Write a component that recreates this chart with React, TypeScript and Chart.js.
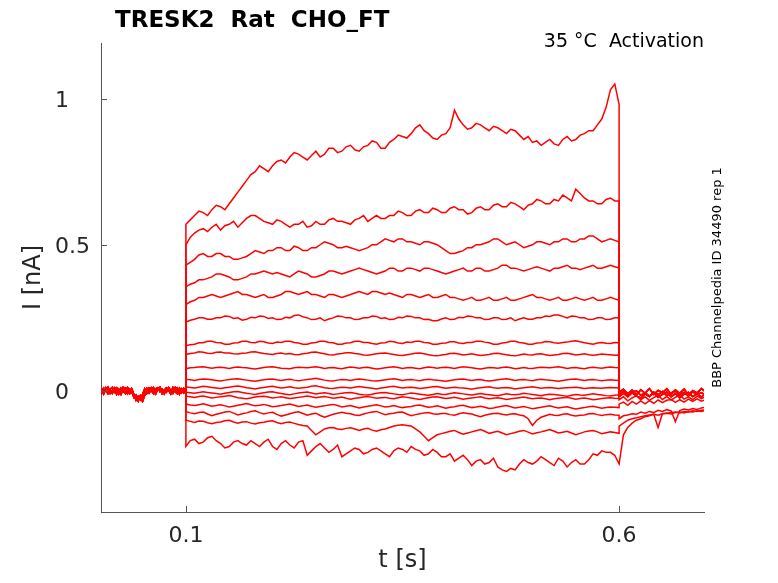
import { useEffect, useRef } from 'react';
import { Chart, registerables } from 'chart.js';

Chart.register(...registerables);

const xTicks = [0.1, 0.6];
const yTicks = [0, 0.5, 1];
const xRange = [0.002, 0.698];
const yRange = [-0.414, 1.19];

// holding period, 0 .. 0.1 s every 2.5 ms
const baseA = [0.008, -0.006, 0.01, 0.002, -0.009, 0.006, 0.012, -0.004, 0.004, -0.01, 0.009, 0.0, -0.008, 0.011, 0.003, -0.006, -0.016, -0.026, -0.018, -0.03, -0.012, 0.007, -0.004, 0.01, 0.002, -0.009, 0.007, 0.011, -0.002, 0.006, -0.008, 0.009, 0.003, -0.01, 0.007, 0.012, -0.004, 0.006, -0.006, 0.009, 0.003];
const baseB = [-0.01, 0.004, -0.004, 0.011, 0.005, -0.008, 0.002, 0.01, -0.011, 0.006, -0.002, 0.012, 0.003, -0.009, 0.007, 0.0, -0.022, -0.014, -0.034, -0.016, -0.024, -0.006, 0.008, -0.007, 0.005, 0.012, -0.006, 0.002, 0.01, -0.009, 0.004, -0.004, 0.011, 0.002, -0.008, 0.005, 0.01, -0.01, 0.007, 0.0, -0.004];
const baseC = [0.012, 0.002, -0.011, 0.005, 0.013, -0.002, -0.009, 0.007, 0.011, 0.0, -0.012, 0.005, 0.01, -0.004, -0.01, 0.007, -0.012, -0.032, -0.024, -0.022, -0.036, -0.014, -0.009, 0.004, 0.011, -0.004, -0.011, 0.007, 0.013, 0.0, -0.01, 0.01, 0.005, -0.006, 0.012, -0.002, -0.009, 0.01, 0.002, -0.007, 0.005];

// test pulse, 0.1 .. 0.6 s every 5 ms
const sweep1 = [
  0.57, 0.585, 0.6, 0.615, 0.61, 0.6, 0.62, 0.635, 0.63, 0.62,
  0.64, 0.66, 0.68, 0.7, 0.72, 0.74, 0.75, 0.77, 0.76, 0.75,
  0.77, 0.785, 0.79, 0.78, 0.8, 0.815, 0.81, 0.8, 0.79, 0.805,
  0.82, 0.8, 0.81, 0.83, 0.83, 0.815, 0.82, 0.835, 0.84, 0.825,
  0.82, 0.835, 0.84, 0.855, 0.85, 0.83, 0.83, 0.85, 0.86, 0.875,
  0.87, 0.865, 0.88, 0.9, 0.91, 0.89, 0.88, 0.865, 0.86, 0.875,
  0.88, 0.9, 0.96, 0.93, 0.91, 0.895, 0.9, 0.915, 0.91, 0.9,
  0.89, 0.905, 0.9, 0.89, 0.88, 0.895, 0.89, 0.875, 0.86, 0.87,
  0.85, 0.855, 0.84, 0.85, 0.86, 0.845, 0.84, 0.86, 0.87, 0.855,
  0.86, 0.875, 0.88, 0.89, 0.89, 0.91, 0.93, 0.97, 1.03, 1.05,
  0.98];
const sweep2 = [
  0.5, 0.525, 0.54, 0.55, 0.555, 0.545, 0.56, 0.57, 0.55, 0.565,
  0.57, 0.58, 0.56, 0.575, 0.59, 0.6, 0.6, 0.59, 0.58, 0.575,
  0.57, 0.585, 0.58, 0.57, 0.56, 0.57, 0.57, 0.58, 0.56, 0.565,
  0.58, 0.57, 0.57, 0.585, 0.59, 0.58, 0.58, 0.575, 0.57, 0.585,
  0.59, 0.6, 0.58, 0.59, 0.6, 0.59, 0.59, 0.6, 0.6, 0.615,
  0.61, 0.6, 0.6, 0.615, 0.62, 0.61, 0.61, 0.625, 0.62, 0.61,
  0.61, 0.625, 0.63, 0.62, 0.62, 0.605, 0.61, 0.625, 0.63, 0.62,
  0.62, 0.635, 0.64, 0.63, 0.63, 0.645, 0.64, 0.63, 0.62, 0.635,
  0.64, 0.655, 0.65, 0.64, 0.64, 0.655, 0.65, 0.67, 0.66, 0.65,
  0.69, 0.675, 0.66, 0.65, 0.65, 0.64, 0.64, 0.655, 0.66, 0.65,
  0.65];
const sweep3 = [
  0.43, 0.44, 0.45, 0.465, 0.47, 0.46, 0.46, 0.47, 0.47, 0.46,
  0.46, 0.45, 0.45, 0.455, 0.46, 0.47, 0.48, 0.475, 0.47, 0.48,
  0.48, 0.49, 0.49, 0.48, 0.48, 0.495, 0.49, 0.48, 0.48, 0.49,
  0.49, 0.5, 0.51, 0.505, 0.5, 0.49, 0.49, 0.495, 0.49, 0.485,
  0.48, 0.485, 0.49, 0.5, 0.5, 0.51, 0.52, 0.515, 0.51, 0.52,
  0.52, 0.51, 0.51, 0.505, 0.5, 0.51, 0.51, 0.505, 0.5, 0.49,
  0.48, 0.47, 0.47, 0.475, 0.48, 0.49, 0.49, 0.5, 0.5, 0.505,
  0.51, 0.52, 0.52, 0.51, 0.5, 0.505, 0.51, 0.5, 0.49, 0.495,
  0.5, 0.51, 0.51, 0.505, 0.5, 0.51, 0.51, 0.52, 0.52, 0.51,
  0.51, 0.52, 0.52, 0.53, 0.53, 0.52, 0.51, 0.515, 0.52, 0.515,
  0.51];
const sweep4 = [
  0.356, 0.365, 0.37, 0.38, 0.38, 0.385, 0.39, 0.4, 0.4, 0.395,
  0.39, 0.38, 0.38, 0.385, 0.39, 0.4, 0.4, 0.405, 0.41, 0.405,
  0.4, 0.405, 0.4, 0.395, 0.39, 0.4, 0.41, 0.405, 0.4, 0.39,
  0.39, 0.395, 0.4, 0.41, 0.41, 0.405, 0.4, 0.405, 0.41, 0.415,
  0.42, 0.415, 0.41, 0.405, 0.4, 0.405, 0.41, 0.42, 0.42, 0.41,
  0.41, 0.42, 0.42, 0.415, 0.41, 0.42, 0.42, 0.415, 0.41, 0.405,
  0.4, 0.405, 0.41, 0.415, 0.42, 0.41, 0.41, 0.42, 0.42, 0.41,
  0.41, 0.415, 0.42, 0.43, 0.43, 0.42, 0.42, 0.415, 0.41, 0.415,
  0.42, 0.425, 0.42, 0.415, 0.41, 0.42, 0.42, 0.425, 0.43, 0.42,
  0.42, 0.415, 0.42, 0.425, 0.43, 0.42, 0.42, 0.425, 0.43, 0.425,
  0.42];
const sweep5 = [
  0.295, 0.305, 0.31, 0.32, 0.32, 0.325, 0.33, 0.325, 0.32, 0.325,
  0.33, 0.335, 0.34, 0.33, 0.33, 0.325, 0.32, 0.325, 0.33, 0.32,
  0.32, 0.325, 0.33, 0.34, 0.34, 0.335, 0.33, 0.335, 0.34, 0.33,
  0.33, 0.325, 0.32, 0.33, 0.33, 0.325, 0.32, 0.325, 0.33, 0.335,
  0.34, 0.335, 0.33, 0.34, 0.34, 0.335, 0.33, 0.335, 0.33, 0.325,
  0.32, 0.33, 0.33, 0.325, 0.32, 0.325, 0.33, 0.32, 0.32, 0.325,
  0.33, 0.32, 0.32, 0.315, 0.31, 0.315, 0.32, 0.31, 0.31, 0.315,
  0.32, 0.31, 0.31, 0.315, 0.32, 0.31, 0.31, 0.315, 0.32, 0.325,
  0.33, 0.32, 0.32, 0.315, 0.31, 0.315, 0.32, 0.31, 0.31, 0.315,
  0.32, 0.315, 0.31, 0.315, 0.32, 0.31, 0.31, 0.315, 0.32, 0.315,
  0.31];
const sweep6 = [
  0.236, 0.242, 0.245, 0.25, 0.25, 0.245, 0.245, 0.25, 0.25, 0.256,
  0.255, 0.248, 0.25, 0.242, 0.245, 0.252, 0.25, 0.256, 0.255, 0.248,
  0.25, 0.244, 0.245, 0.252, 0.25, 0.258, 0.26, 0.254, 0.25, 0.244,
  0.245, 0.25, 0.24, 0.246, 0.25, 0.256, 0.255, 0.25, 0.25, 0.244,
  0.245, 0.25, 0.25, 0.256, 0.255, 0.248, 0.25, 0.244, 0.245, 0.252,
  0.25, 0.256, 0.255, 0.25, 0.25, 0.244, 0.245, 0.24, 0.24, 0.246,
  0.25, 0.244, 0.245, 0.252, 0.25, 0.256, 0.255, 0.25, 0.25, 0.244,
  0.245, 0.25, 0.25, 0.244, 0.245, 0.25, 0.24, 0.246, 0.25, 0.245,
  0.245, 0.25, 0.25, 0.256, 0.255, 0.26, 0.26, 0.255, 0.25, 0.256,
  0.255, 0.25, 0.25, 0.244, 0.245, 0.25, 0.25, 0.244, 0.245, 0.25,
  0.25];
const sweep7 = [
  0.155, 0.158, 0.16, 0.165, 0.165, 0.17, 0.17, 0.166, 0.165, 0.16,
  0.16, 0.164, 0.165, 0.17, 0.17, 0.166, 0.165, 0.17, 0.168, 0.164,
  0.162, 0.167, 0.166, 0.17, 0.17, 0.166, 0.164, 0.16, 0.16, 0.164,
  0.166, 0.17, 0.17, 0.166, 0.165, 0.16, 0.16, 0.164, 0.165, 0.17,
  0.17, 0.166, 0.166, 0.162, 0.16, 0.164, 0.165, 0.17, 0.168, 0.164,
  0.162, 0.167, 0.166, 0.17, 0.17, 0.166, 0.165, 0.16, 0.16, 0.163,
  0.164, 0.168, 0.168, 0.164, 0.162, 0.166, 0.166, 0.17, 0.17, 0.167,
  0.165, 0.16, 0.16, 0.164, 0.166, 0.17, 0.17, 0.166, 0.164, 0.16,
  0.16, 0.164, 0.165, 0.169, 0.168, 0.165, 0.163, 0.166, 0.167, 0.17,
  0.172, 0.168, 0.165, 0.162, 0.16, 0.164, 0.166, 0.163, 0.162, 0.166,
  0.165];
const sweep8 = [
  0.125, 0.128, 0.13, 0.134, 0.132, 0.129, 0.128, 0.132, 0.133, 0.13,
  0.13, 0.127, 0.126, 0.129, 0.13, 0.133, 0.134, 0.131, 0.128, 0.126,
  0.125, 0.128, 0.13, 0.126, 0.128, 0.125, 0.124, 0.127, 0.129, 0.132,
  0.133, 0.13, 0.127, 0.124, 0.123, 0.126, 0.128, 0.131, 0.131, 0.128,
  0.126, 0.123, 0.122, 0.125, 0.127, 0.129, 0.13, 0.127, 0.125, 0.122,
  0.121, 0.124, 0.126, 0.129, 0.13, 0.127, 0.124, 0.121, 0.12, 0.123,
  0.125, 0.128, 0.129, 0.126, 0.123, 0.125, 0.127, 0.124, 0.121, 0.123,
  0.125, 0.128, 0.129, 0.126, 0.124, 0.121, 0.12, 0.123, 0.126, 0.124,
  0.123, 0.126, 0.127, 0.124, 0.121, 0.123, 0.125, 0.128, 0.129, 0.126,
  0.123, 0.125, 0.127, 0.124, 0.122, 0.124, 0.126, 0.125, 0.124, 0.122,
  0.123];
const sweep9 = [
  0.076, 0.079, 0.08, 0.082, 0.083, 0.08, 0.078, 0.08, 0.081, 0.079,
  0.077, 0.08, 0.082, 0.08, 0.079, 0.077, 0.075, 0.078, 0.08, 0.082,
  0.083, 0.08, 0.078, 0.077, 0.076, 0.079, 0.081, 0.08, 0.079, 0.081,
  0.083, 0.08, 0.077, 0.079, 0.08, 0.078, 0.076, 0.079, 0.082, 0.08,
  0.078, 0.08, 0.081, 0.078, 0.075, 0.077, 0.079, 0.081, 0.083, 0.08,
  0.077, 0.079, 0.08, 0.078, 0.076, 0.079, 0.082, 0.08, 0.078, 0.08,
  0.081, 0.079, 0.077, 0.08, 0.083, 0.081, 0.079, 0.077, 0.075, 0.078,
  0.08, 0.079, 0.078, 0.08, 0.082, 0.079, 0.076, 0.078, 0.08, 0.078,
  0.077, 0.079, 0.081, 0.08, 0.079, 0.081, 0.083, 0.08, 0.077, 0.079,
  0.08, 0.078, 0.076, 0.079, 0.081, 0.079, 0.078, 0.08, 0.082, 0.08,
  0.079];
const sweep10 = [
  0.04, 0.038, 0.036, 0.039, 0.041, 0.04, 0.038, 0.036, 0.034, 0.037,
  0.039, 0.041, 0.042, 0.039, 0.037, 0.035, 0.033, 0.036, 0.038, 0.04,
  0.041, 0.038, 0.036, 0.038, 0.04, 0.037, 0.035, 0.037, 0.039, 0.041,
  0.043, 0.04, 0.037, 0.035, 0.034, 0.037, 0.039, 0.038, 0.036, 0.039,
  0.041, 0.039, 0.037, 0.035, 0.034, 0.036, 0.038, 0.04, 0.042, 0.039,
  0.036, 0.038, 0.039, 0.037, 0.035, 0.038, 0.04, 0.038, 0.037, 0.035,
  0.033, 0.036, 0.038, 0.04, 0.041, 0.038, 0.036, 0.038, 0.039, 0.036,
  0.034, 0.036, 0.038, 0.04, 0.042, 0.039, 0.036, 0.038, 0.039, 0.037,
  0.035, 0.038, 0.04, 0.038, 0.037, 0.035, 0.033, 0.036, 0.038, 0.04,
  0.041, 0.038, 0.036, 0.038, 0.039, 0.037, 0.035, 0.037, 0.038, 0.037,
  0.036];
const sweep11 = [
  0.014, 0.012, 0.01, 0.013, 0.016, 0.014, 0.012, 0.01, 0.008, 0.011,
  0.013, 0.015, 0.017, 0.014, 0.011, 0.009, 0.007, 0.01, 0.012, 0.014,
  0.016, 0.013, 0.01, 0.012, 0.014, 0.011, 0.009, 0.011, 0.013, 0.016,
  0.018, 0.014, 0.011, 0.009, 0.008, 0.011, 0.013, 0.012, 0.01, 0.013,
  0.015, 0.013, 0.011, 0.009, 0.007, 0.01, 0.012, 0.014, 0.016, 0.013,
  0.01, 0.012, 0.013, 0.011, 0.008, 0.01, 0.012, 0.014, 0.015, 0.012,
  0.009, 0.011, 0.013, 0.011, 0.01, 0.008, 0.006, 0.009, 0.011, 0.013,
  0.014, 0.011, 0.009, 0.011, 0.012, 0.01, 0.007, 0.009, 0.011, 0.013,
  0.014, 0.012, 0.009, 0.011, 0.012, 0.01, 0.008, 0.01, 0.011, 0.012,
  0.013, 0.011, 0.008, 0.01, 0.011, 0.01, 0.009, 0.011, 0.012, 0.011,
  0.01];
const sweep12 = [
  -0.004, -0.006, -0.008, -0.005, -0.003, -0.005, -0.007, -0.009, -0.011, -0.008,
  -0.005, -0.003, -0.002, -0.005, -0.008, -0.01, -0.012, -0.009, -0.006, -0.004,
  -0.003, -0.006, -0.009, -0.011, -0.013, -0.01, -0.007, -0.005, -0.004, -0.007,
  -0.01, -0.008, -0.006, -0.009, -0.012, -0.01, -0.008, -0.006, -0.005, -0.008,
  -0.011, -0.013, -0.014, -0.011, -0.008, -0.006, -0.005, -0.008, -0.01, -0.012,
  -0.013, -0.01, -0.007, -0.009, -0.011, -0.013, -0.015, -0.012, -0.009, -0.011,
  -0.012, -0.009, -0.006, -0.008, -0.01, -0.012, -0.014, -0.011, -0.009, -0.011,
  -0.013, -0.015, -0.016, -0.013, -0.01, -0.012, -0.013, -0.011, -0.008, -0.01,
  -0.012, -0.014, -0.016, -0.013, -0.011, -0.012, -0.014, -0.016, -0.018, -0.015,
  -0.012, -0.014, -0.015, -0.012, -0.01, -0.012, -0.014, -0.016, -0.017, -0.015,
  -0.013];
const sweep13 = [
  -0.018, -0.02, -0.022, -0.019, -0.017, -0.021, -0.024, -0.022, -0.02, -0.018,
  -0.016, -0.019, -0.023, -0.025, -0.027, -0.024, -0.021, -0.019, -0.018, -0.021,
  -0.024, -0.022, -0.02, -0.023, -0.026, -0.024, -0.022, -0.02, -0.017, -0.02,
  -0.023, -0.021, -0.019, -0.022, -0.025, -0.023, -0.021, -0.025, -0.028, -0.025,
  -0.023, -0.021, -0.019, -0.022, -0.025, -0.023, -0.022, -0.025, -0.027, -0.023,
  -0.02, -0.022, -0.024, -0.027, -0.029, -0.026, -0.023, -0.021, -0.02, -0.023,
  -0.026, -0.024, -0.022, -0.025, -0.028, -0.026, -0.024, -0.022, -0.02, -0.024,
  -0.027, -0.025, -0.023, -0.026, -0.029, -0.027, -0.025, -0.023, -0.021, -0.024,
  -0.027, -0.025, -0.024, -0.027, -0.03, -0.027, -0.025, -0.023, -0.022, -0.025,
  -0.028, -0.026, -0.024, -0.027, -0.03, -0.028, -0.026, -0.024, -0.023, -0.025,
  -0.026];
const sweep14 = [
  -0.045, -0.048, -0.05, -0.047, -0.044, -0.048, -0.052, -0.05, -0.047, -0.051,
  -0.055, -0.052, -0.049, -0.046, -0.043, -0.047, -0.051, -0.049, -0.046, -0.05,
  -0.054, -0.052, -0.05, -0.047, -0.045, -0.049, -0.053, -0.051, -0.048, -0.052,
  -0.056, -0.053, -0.051, -0.048, -0.046, -0.05, -0.055, -0.052, -0.05, -0.054,
  -0.058, -0.055, -0.052, -0.05, -0.047, -0.051, -0.055, -0.053, -0.05, -0.054,
  -0.057, -0.055, -0.053, -0.05, -0.048, -0.052, -0.056, -0.054, -0.051, -0.055,
  -0.059, -0.056, -0.054, -0.051, -0.049, -0.053, -0.057, -0.055, -0.052, -0.056,
  -0.06, -0.058, -0.055, -0.052, -0.05, -0.054, -0.058, -0.056, -0.053, -0.057,
  -0.061, -0.058, -0.056, -0.053, -0.051, -0.055, -0.058, -0.056, -0.054, -0.058,
  -0.062, -0.059, -0.057, -0.054, -0.052, -0.056, -0.059, -0.057, -0.055, -0.056,
  -0.057];
const sweep15 = [
  -0.07, -0.075, -0.078, -0.074, -0.072, -0.079, -0.085, -0.08, -0.076, -0.072,
  -0.07, -0.076, -0.082, -0.078, -0.075, -0.07, -0.068, -0.074, -0.079, -0.075,
  -0.073, -0.08, -0.086, -0.082, -0.078, -0.074, -0.071, -0.077, -0.083, -0.079,
  -0.076, -0.084, -0.09, -0.085, -0.08, -0.076, -0.073, -0.076, -0.078, -0.082,
  -0.084, -0.079, -0.075, -0.072, -0.07, -0.076, -0.081, -0.078, -0.076, -0.073,
  -0.072, -0.079, -0.085, -0.081, -0.078, -0.075, -0.074, -0.078, -0.08, -0.077,
  -0.077, -0.081, -0.083, -0.078, -0.075, -0.077, -0.079, -0.084, -0.088, -0.083,
  -0.08, -0.077, -0.076, -0.08, -0.082, -0.079, -0.078, -0.082, -0.085, -0.095,
  -0.118, -0.1, -0.09, -0.085, -0.08, -0.083, -0.084, -0.08, -0.078, -0.083,
  -0.086, -0.083, -0.082, -0.078, -0.077, -0.081, -0.084, -0.081, -0.08, -0.082,
  -0.083];
const sweep16 = [
  -0.1, -0.104, -0.108, -0.103, -0.104, -0.109, -0.112, -0.108, -0.106, -0.102,
  -0.1, -0.106, -0.11, -0.106, -0.105, -0.11, -0.113, -0.109, -0.107, -0.104,
  -0.102, -0.108, -0.112, -0.108, -0.106, -0.111, -0.115, -0.118, -0.12, -0.135,
  -0.15, -0.14, -0.13, -0.126, -0.125, -0.13, -0.132, -0.128, -0.126, -0.13,
  -0.135, -0.13, -0.128, -0.134, -0.138, -0.133, -0.13, -0.125, -0.12, -0.117,
  -0.116, -0.118, -0.12, -0.13, -0.14, -0.155, -0.17, -0.16, -0.15, -0.146,
  -0.142, -0.138, -0.135, -0.142, -0.148, -0.144, -0.14, -0.136, -0.132, -0.138,
  -0.145, -0.141, -0.138, -0.144, -0.15, -0.146, -0.142, -0.138, -0.135, -0.141,
  -0.147, -0.143, -0.14, -0.136, -0.132, -0.138, -0.144, -0.141, -0.138, -0.144,
  -0.15, -0.145, -0.14, -0.137, -0.135, -0.14, -0.146, -0.143, -0.14, -0.142,
  -0.145];
const sweep17 = [
  -0.19, -0.17, -0.165, -0.18, -0.175, -0.16, -0.155, -0.17, -0.18, -0.195,
  -0.19, -0.175, -0.17, -0.18, -0.185, -0.17, -0.18, -0.19, -0.175, -0.165,
  -0.19, -0.2, -0.18, -0.17, -0.185, -0.195, -0.175, -0.17, -0.22, -0.205,
  -0.19, -0.18, -0.195, -0.21, -0.2, -0.185, -0.225, -0.215, -0.205, -0.195,
  -0.2, -0.215, -0.21, -0.2, -0.195, -0.205, -0.215, -0.225, -0.205, -0.195,
  -0.2, -0.21, -0.19, -0.2, -0.205, -0.22, -0.215, -0.2, -0.21, -0.225,
  -0.225, -0.215, -0.24, -0.23, -0.22, -0.235, -0.255, -0.24, -0.235, -0.25,
  -0.245, -0.23, -0.26, -0.27, -0.275, -0.265, -0.27, -0.25, -0.235, -0.245,
  -0.25, -0.24, -0.225, -0.235, -0.245, -0.255, -0.23, -0.24, -0.26, -0.245,
  -0.235, -0.25, -0.25, -0.235, -0.215, -0.22, -0.205, -0.21, -0.21, -0.22,
  -0.25];

// after the pulse, 0.6 .. 0.7 s every 5 ms
const tailA = [-0.005, 0.006, -0.01, 0.003, -0.014, 0.004, -0.008, 0.008, -0.012, 0.002, -0.006, 0.007, -0.011, 0.003, -0.008, 0.006, -0.013, 0.001, -0.007, 0.008, -0.003];
const tailB = [-0.012, -0.002, -0.017, -0.005, 0.0, -0.015, -0.006, -0.018, -0.004, -0.013, -0.002, -0.016, -0.007, 0.0, -0.014, -0.005, -0.017, -0.003, -0.012, -0.006, -0.014];
const tailC = [-0.02, -0.008, -0.02, -0.006, -0.018, -0.024, -0.01, -0.019, -0.007, -0.022, -0.012, -0.004, -0.02, -0.009, -0.023, -0.011, -0.005, -0.019, -0.01, -0.021, -0.008];
const tailD = [-0.03, -0.02, -0.034, -0.024, -0.016, -0.03, -0.02, -0.032, -0.023, -0.015, -0.029, -0.019, -0.031, -0.022, -0.014, -0.028, -0.02, -0.03, -0.018, -0.026, -0.02];
const tail14 = [-0.045, -0.038, -0.049, -0.036, -0.045, -0.034, -0.044, -0.033, -0.042, -0.031, -0.04, -0.032, -0.029, -0.039, -0.03, -0.038, -0.028, -0.036, -0.027, -0.035, -0.03];
const tail15 = [-0.095, -0.085, -0.082, -0.078, -0.08, -0.072, -0.076, -0.07, -0.074, -0.066, -0.07, -0.064, -0.068, -0.105, -0.067, -0.062, -0.065, -0.06, -0.063, -0.058, -0.056];
const tail16 = [-0.12, -0.11, -0.1, -0.095, -0.092, -0.088, -0.085, -0.082, -0.08, -0.125, -0.078, -0.076, -0.074, -0.072, -0.075, -0.07, -0.072, -0.068, -0.07, -0.066, -0.065];
const tail17 = [-0.25, -0.15, -0.125, -0.11, -0.1, -0.095, -0.088, -0.085, -0.08, -0.083, -0.078, -0.076, -0.079, -0.074, -0.072, -0.075, -0.07, -0.072, -0.068, -0.07, -0.066];

const sweeps = [sweep1, sweep2, sweep3, sweep4, sweep5, sweep6, sweep7, sweep8, sweep9, sweep10, sweep11, sweep12, sweep13, sweep14, sweep15, sweep16, sweep17];
const bases = [baseA, baseB, baseC];
const tails = [tailB, tailA, tailC, tailB, tailA, tailC, tailA, tailB, tailA, tailC, tailB, tailC, tailD, tail14, tail15, tail16, tail17];

const axisColor = '#555555';
const textColor = '#262626';

const preT = baseA.map((_, i) => i * 0.0025);
const pulseT = sweep1.map((_, i) => 0.1 + i * 0.005);
const tailT = tailA.map((_, i) => 0.6 + i * 0.005);

function buildSweep(k: number) {
  const base = bases[k % bases.length];
  const pts = base.map((v, i) => ({ x: preT[i], y: v }));
  sweeps[k].forEach((v, i) => pts.push({ x: pulseT[i], y: v }));
  tails[k].forEach((v, i) => pts.push({ x: tailT[i], y: v }));
  return pts;
}

const matlabAxes = {
  id: 'matlabAxes',
  afterDraw(chart: any) {
    const { ctx, chartArea: a, scales } = chart;
    const xs = scales.x;
    const ys = scales.y;
    ctx.save();
    ctx.strokeStyle = axisColor;
    ctx.lineWidth = 1;
    ctx.beginPath();
    xTicks.forEach((v) => {
      const px = Math.round(xs.getPixelForValue(v)) + 0.5;
      ctx.moveTo(px, a.bottom);
      ctx.lineTo(px, a.bottom - 6);
    });
    yTicks.forEach((v) => {
      const py = Math.round(ys.getPixelForValue(v)) + 0.5;
      ctx.moveTo(a.left, py);
      ctx.lineTo(a.left + 6, py);
    });
    ctx.stroke();

    ctx.fillStyle = textColor;
    ctx.font = '22px "DejaVu Sans"';
    ctx.textBaseline = 'alphabetic';
    ctx.textAlign = 'center';
    xTicks.forEach((v) => ctx.fillText(String(v), xs.getPixelForValue(v), a.bottom + 30));
    ctx.textAlign = 'left';
    yTicks.forEach((v) => ctx.fillText(String(v), 55, ys.getPixelForValue(v) + 8));

    ctx.font = '24px "DejaVu Sans"';
    ctx.textAlign = 'center';
    ctx.fillText('t [s]', (a.left + a.right) / 2, 567);
    ctx.save();
    ctx.translate(40, (a.top + a.bottom) / 2);
    ctx.rotate(-Math.PI / 2);
    ctx.fillText('I [nA]', 0, 0);
    ctx.restore();

    ctx.fillStyle = '#000000';
    ctx.font = 'bold 23px "DejaVu Sans"';
    ctx.textAlign = 'left';
    ctx.fillText('TRESK2  Rat  CHO_FT', 115, 27);
    ctx.font = '19px "DejaVu Sans"';
    ctx.textAlign = 'right';
    ctx.fillText('35 °C  Activation', a.right, 47);
    ctx.font = '13px "DejaVu Sans"';
    ctx.textAlign = 'center';
    ctx.translate(721, (a.top + a.bottom) / 2);
    ctx.rotate(-Math.PI / 2);
    ctx.fillText('BBP Channelpedia ID 34490 rep 1', 0, 0);
    ctx.restore();
  },
};

export default function App() {
  const canvasRef = useRef<HTMLCanvasElement>(null);

  useEffect(() => {
    if (!canvasRef.current) return;
    const chart = new Chart(canvasRef.current, {
      type: 'line',
      data: {
        datasets: sweeps.map((_, k) => ({
          data: buildSweep(k),
          borderColor: '#ff0000',
          borderWidth: 1.5,
          pointRadius: 0,
          fill: false,
          tension: 0,
        })),
      },
      options: {
        animation: false,
        responsive: false,
        devicePixelRatio: 1,
        layout: { padding: { left: 0, top: 43, right: 74, bottom: 0 } },
        plugins: { legend: { display: false }, tooltip: { enabled: false }, title: { display: false } },
        scales: {
          x: {
            type: 'linear',
            min: xRange[0],
            max: xRange[1],
            grid: { display: false },
            border: { display: true, color: axisColor, width: 1 },
            ticks: { display: false },
            afterFit: (s: any) => { s.height = 71; },
          },
          y: {
            type: 'linear',
            min: yRange[0],
            max: yRange[1],
            grid: { display: false },
            border: { display: true, color: axisColor, width: 1 },
            ticks: { display: false },
            afterFit: (s: any) => { s.width = 101; },
          },
        },
      },
      plugins: [matlabAxes],
    });
    return () => chart.destroy();
  }, []);

  return (
    <div style={{ position: 'absolute', left: 0, top: 0, width: 778, height: 583, background: '#fff' }}>
      <canvas ref={canvasRef} width={778} height={583} style={{ display: 'block' }} />
    </div>
  );
}
